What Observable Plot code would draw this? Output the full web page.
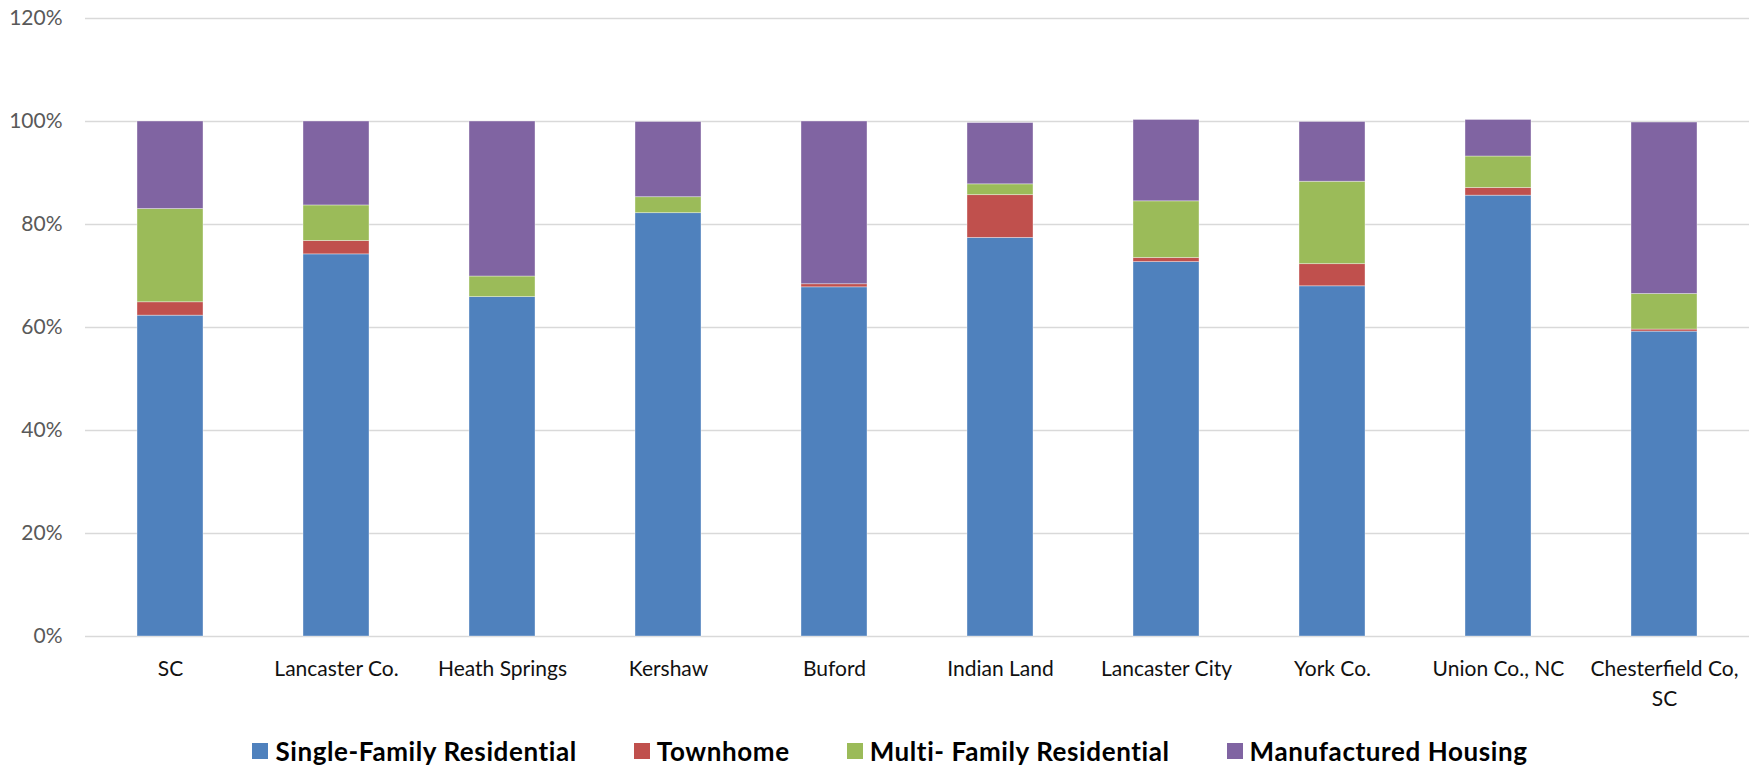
<!DOCTYPE html>
<html>
<head>
<meta charset="utf-8">
<script src="https://cdn.jsdelivr.net/npm/d3@7"></script>
<script src="https://cdn.jsdelivr.net/npm/@observablehq/plot@0.6"></script>
<style>
  html, body { margin: 0; padding: 0; background: #fff; }
  #chart svg { display: block; }
  .legend {
    display: flex; justify-content: center; align-items: center;
    gap: 57px; margin-top: 21px; padding-left: 18px;
    font-family: Lato, "Open Sans", sans-serif; font-weight: 700;
    font-size: 26px; letter-spacing: 0.6px; color: #000; line-height: 30px;
  }
  .legend .item { display: flex; align-items: center; }
  .legend .sw { width: 16px; height: 16px; margin-right: 7px; }
</style>
</head>
<body>
<div id="chart"></div>
<div class="legend" id="legend"></div>
<script>
// Housing type share by area (percent of units)
const categories = ["SC", "Lancaster Co.", "Heath Springs", "Kershaw", "Buford", "Indian Land", "Lancaster City", "York Co.", "Union Co., NC", "Chesterfield Co, SC"];
const tickLabels = ["SC", "Lancaster Co.", "Heath Springs", "Kershaw", "Buford", "Indian Land", "Lancaster City", "York Co.", "Union Co., NC", "Chesterfield Co,\nSC"];
const series = ["Single-Family Residential", "Townhome", "Multi- Family Residential", "Manufactured Housing"];
const colors = ["#4F81BD", "#C0504D", "#9BBB59", "#8064A2"];

const singleFamily = [62.3, 74.2, 65.9, 82.2, 67.8, 77.4, 72.7, 68.0, 85.6, 59.2];
const townhome     = [2.6, 2.6, 0, 0, 0.6, 8.3, 0.8, 4.3, 1.5, 0.4];
const multiFamily  = [18.1, 6.9, 4.0, 3.1, 0, 2.1, 11.0, 16.0, 6.1, 6.9];
const manufactured = [17.0, 16.3, 30.1, 14.6, 31.6, 11.9, 15.8, 11.6, 7.1, 33.3];

const yTicks = [0, 20, 40, 60, 80, 100, 120];

// Long-format rows, bottom series first so the stack builds upward
const valuesBySeries = [singleFamily, townhome, multiFamily, manufactured];
const rows = [];
series.forEach((s, si) => {
  categories.forEach((c, ci) => {
    rows.push({category: c, series: s, value: valuesBySeries[si][ci]});
  });
});

const chart = Plot.plot({
  width: 1762,
  height: 715,
  marginLeft: 85,
  marginRight: 13,
  marginTop: 18,
  marginBottom: 79,
  style: {fontFamily: "Lato, 'Open Sans', sans-serif", fontSize: "21px", background: "#fff"},
  x: {domain: categories, paddingInner: 0.6, paddingOuter: 0.3, label: null},
  y: {domain: [0, 120], label: null},
  color: {domain: series, range: colors},
  marks: [
    Plot.gridY(yTicks, {stroke: "#d9d9d9", strokeOpacity: 1, strokeWidth: 1.5}),
    Plot.axisY(yTicks, {
      tickSize: 0, tickPadding: 23, label: null,
      tickFormat: d => d + "%", fill: "#595959", fontSize: 21
    }),
    Plot.axisX({
      tickSize: 0, tickPadding: 18, label: null,
      tickFormat: d => tickLabels[categories.indexOf(d)],
      lineHeight: 1.43, fill: "#111", fontSize: 21
    }),
    Plot.barY(rows, {
      x: "category", y: "value", fill: "series",
      stroke: "#fff", strokeOpacity: 0.45, strokeWidth: 0.8
    })
  ]
});
document.getElementById("chart").appendChild(chart);

// Legend below the plot
const legend = document.getElementById("legend");
series.forEach((s, i) => {
  const item = document.createElement("div");
  item.className = "item";
  const sw = document.createElement("span");
  sw.className = "sw";
  sw.style.background = colors[i];
  const label = document.createElement("span");
  label.textContent = s;
  item.appendChild(sw);
  item.appendChild(label);
  legend.appendChild(item);
});
</script>
</body>
</html>
